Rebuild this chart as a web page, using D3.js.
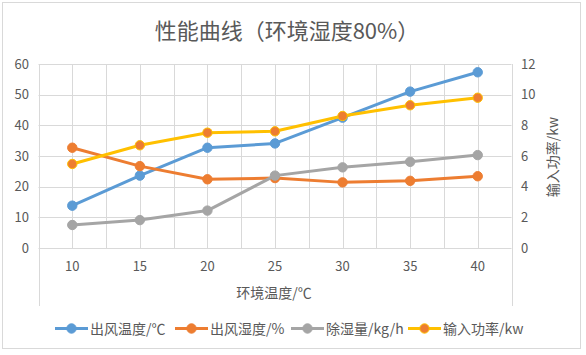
<!DOCTYPE html>
<html><head><meta charset="utf-8">
<script src="https://cdn.jsdelivr.net/npm/d3@7"></script>
<style>
body{margin:0;background:#fff;}
text{font-family:"Noto Sans CJK SC","Noto Sans",sans-serif;fill:#595959;}
</style></head>
<body>
<svg id="c" width="586" height="355"></svg>
<script>
const categories = [10, 15, 20, 25, 30, 35, 40];
const outletTemp = [13.8, 23.6, 32.7, 34.1, 42.5, 51.0, 57.3];
const outletHum = [32.7, 26.7, 22.4, 22.8, 21.4, 21.9, 23.4];
const dehum = [7.5, 9.1, 12.2, 23.6, 26.3, 28.1, 30.3];
const power = [5.48, 6.70, 7.52, 7.61, 8.61, 9.31, 9.80];
const leftTicks = [0, 10, 20, 30, 40, 50, 60];
const rightTicks = [0, 2, 4, 6, 8, 10, 12];
const seriesNames = ["出风温度/℃", "出风湿度/%", "除湿量/kg/h", "输入功率/kw"];
const colors = ["#5B9BD5", "#ED7D31", "#A5A5A5", "#FFC000"];

const svg = d3.select("#c");
const L = 38.5, R = 511.5, T = 64, B = 248;
const x = d3.scaleLinear().domain([7.5, 42.5]).range([L, R]);
const yL = d3.scaleLinear().domain([0, 60]).range([B, T]);
const yR = d3.scaleLinear().domain([0, 12]).range([B, T]);

// outer border
svg.append("rect").attr("x", 2.5).attr("y", 2.5).attr("width", 578).attr("height", 346)
  .attr("fill", "none").attr("stroke", "#d9d9d9");

// title
svg.append("text").attr("x", 287).attr("y", 39).attr("text-anchor", "middle")
  .style("font-size", "22px").text("性能曲线（环境湿度80%）");

// horizontal gridlines
const g = svg.append("g");
g.selectAll(".hg").data(leftTicks).join("line")
  .attr("x1", L).attr("x2", R)
  .attr("y1", d => Math.round(yL(d)) + 0.5).attr("y2", d => Math.round(yL(d)) + 0.5)
  .attr("stroke", "#d9d9d9").attr("stroke-width", 1);
// vertical gridlines every 2.5
const vg = d3.range(7.5, 42.51, 2.5);
g.selectAll(".vg").data(vg).join("line")
  .attr("x1", d => Math.round(x(d)) + 0.5).attr("x2", d => Math.round(x(d)) + 0.5)
  .attr("y1", T).attr("y2", (d, i) => (i === 0 || i === vg.length - 1) ? 306 : B)
  .attr("stroke", "#d9d9d9").attr("stroke-width", 1);

// left axis labels
svg.append("g").selectAll("text").data(leftTicks).join("text")
  .attr("x", 29).attr("y", d => yL(d) + 4.5).attr("text-anchor", "end")
  .style("font-size", "13px").text(d => d);
// right axis labels
svg.append("g").selectAll("text").data(rightTicks).join("text")
  .attr("x", 521).attr("y", d => yR(d) + 4.5).attr("text-anchor", "start")
  .style("font-size", "13px").text(d => d);
// x labels
svg.append("g").selectAll("text").data(categories).join("text")
  .attr("x", d => x(d)).attr("y", 271).attr("text-anchor", "middle")
  .style("font-size", "13px").text(d => d);

// axis titles
svg.append("text").attr("x", 274).attr("y", 298).attr("text-anchor", "middle")
  .style("font-size", "14px").text("环境温度/℃");
svg.append("text").attr("transform", "translate(558,157) rotate(-90)").attr("text-anchor", "middle")
  .style("font-size", "14px").text("输入功率/kw");

// series
const series = [
  {vals: outletTemp, y: yL, color: colors[0], fill: colors[0]},
  {vals: outletHum, y: yL, color: colors[1], fill: colors[1]},
  {vals: dehum, y: yL, color: colors[2], fill: colors[2]},
  {vals: power, y: yR, color: colors[3], fill: colors[1]}
];
series.forEach(s => {
  const pts = categories.map((c, i) => [x(c), s.y(s.vals[i])]);
  const sg = svg.append("g");
  sg.append("path").attr("d", d3.line()(pts)).attr("fill", "none")
    .attr("stroke", s.color).attr("stroke-width", 3).attr("stroke-linejoin", "round");
  sg.selectAll("circle").data(pts).join("circle")
    .attr("cx", d => d[0]).attr("cy", d => d[1]).attr("r", 4.7)
    .attr("fill", s.fill).attr("stroke", s.color).attr("stroke-width", 1);
});

// legend
const legX = [55, 175, 291, 408];
const lg = svg.append("g");
series.forEach((s, i) => {
  const gx = legX[i], gy = 328.5;
  lg.append("line").attr("x1", gx).attr("x2", gx + 33).attr("y1", gy).attr("y2", gy)
    .attr("stroke", s.color).attr("stroke-width", 3);
  lg.append("circle").attr("cx", gx + 16.5).attr("cy", gy).attr("r", 4.7)
    .attr("fill", s.fill).attr("stroke", s.color).attr("stroke-width", 1);
  lg.append("text").attr("x", gx + 35).attr("y", gy + 5).style("font-size", "14px").text(seriesNames[i]);
});
</script>
</body></html>
